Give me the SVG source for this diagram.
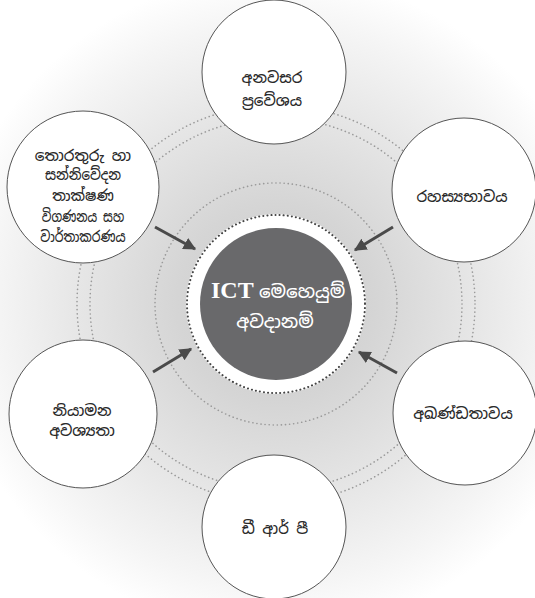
<svg xmlns="http://www.w3.org/2000/svg" width="535" height="598" viewBox="0 0 535 598">
<defs>
<radialGradient id="bg" cx="276" cy="304" r="330" gradientUnits="userSpaceOnUse">
<stop offset="0" stop-color="#c9c9c9"/>
<stop offset="0.3" stop-color="#d5d5d5"/>
<stop offset="0.6" stop-color="#e6e6e6"/>
<stop offset="0.85" stop-color="#f5f5f5"/>
<stop offset="1" stop-color="#ffffff"/>
</radialGradient>
<marker id="ah" viewBox="0 0 10 10" refX="9" refY="5" markerWidth="4.2" markerHeight="4.2" orient="auto" markerUnits="strokeWidth">
<path d="M0,0 L10,5 L0,10 Z" fill="#4a4a4a"/>
</marker>
<style>
.ring{fill:none;stroke:#9a9a9a;stroke-width:1.6;stroke-dasharray:0.1 4;stroke-linecap:round}
.node circle{fill:#fff;stroke:#555;stroke-width:1}
.node text{font-family:"Noto Sans Sinhala","Noto Serif Sinhala","Noto Sans",sans-serif;font-size:15px;font-weight:500;fill:#2a2a2a;text-anchor:middle;dominant-baseline:central}
.arrow{stroke:#4a4a4a;stroke-width:3;fill:none;marker-end:url(#ah)}
.si{font-family:"Noto Sans Sinhala","Noto Serif Sinhala","Noto Sans",sans-serif;font-size:18px;font-weight:500;fill:#fff;dominant-baseline:central}
.ict{font-family:"Liberation Serif",serif;font-size:24px;font-weight:bold;fill:#fff;dominant-baseline:central}
</style>
</defs>
<rect width="535" height="598" fill="#fff"/>
<circle cx="276" cy="304" r="330" fill="url(#bg)"/>
<g id="rings">
<circle class="ring" cx="276" cy="304" r="121"/>
<circle class="ring" cx="276" cy="304" r="186"/>
<circle class="ring" cx="276" cy="304" r="199"/>
</g>
<g id="center">
<circle cx="276" cy="304" r="90" fill="#fff"/>
<circle cx="276" cy="304" r="89" fill="none" stroke="#444" stroke-width="2" stroke-dasharray="0.1 4" stroke-linecap="round"/>
<circle cx="276" cy="304" r="76" fill="#69696b"/>
<text class="ict" x="211" y="290">ICT</text>
<text class="si" x="259" y="291">මෙහෙයුම්</text>
<text class="si" x="275" y="321" text-anchor="middle">අවදානම්</text>
</g>
<g id="connectors">
<line class="arrow" x1="155" y1="227" x2="195" y2="249"/>
<line class="arrow" x1="393" y1="227" x2="355" y2="250"/>
<line class="arrow" x1="153" y1="372" x2="191" y2="349"/>
<line class="arrow" x1="397" y1="373" x2="359" y2="352"/>
</g>
<g id="node-top" class="node">
<circle cx="274" cy="72" r="72"/>
<text x="272" y="77">අනවසර</text>
<text x="272" y="100">ප්‍රවේශය</text>
</g>
<g id="node-upper-right" class="node">
<circle cx="464" cy="190" r="72"/>
<text x="462" y="196">රහස්‍යභාවය</text>
</g>
<g id="node-lower-right" class="node">
<circle cx="465" cy="413" r="72"/>
<text x="463" y="413">අඛණ්ඩතාවය</text>
</g>
<g id="node-bottom" class="node">
<circle cx="274" cy="527" r="72"/>
<text x="275" y="528">ඩී ආර් පී</text>
</g>
<g id="node-lower-left" class="node">
<circle cx="83" cy="414" r="74"/>
<text x="82" y="410">නියාමන</text>
<text x="82" y="430">අවශ්‍යතා</text>
</g>
<g id="node-upper-left" class="node">
<circle cx="83" cy="187" r="76"/>
<text x="83" y="155">තොරතුරු හා</text>
<text x="83" y="175" transform="translate(83 0) scale(0.88 1) translate(-83 0)">සන්නිවේදන</text>
<text x="83" y="195" transform="translate(83 0) scale(0.95 1) translate(-83 0)">තාක්ෂණ</text>
<text x="83" y="216" transform="translate(83 0) scale(0.78 1) translate(-83 0)">විගණනය සහ</text>
<text x="83" y="237" transform="translate(83 0) scale(0.82 1) translate(-83 0)">වාර්තාකරණය</text>
</g>
</svg>
